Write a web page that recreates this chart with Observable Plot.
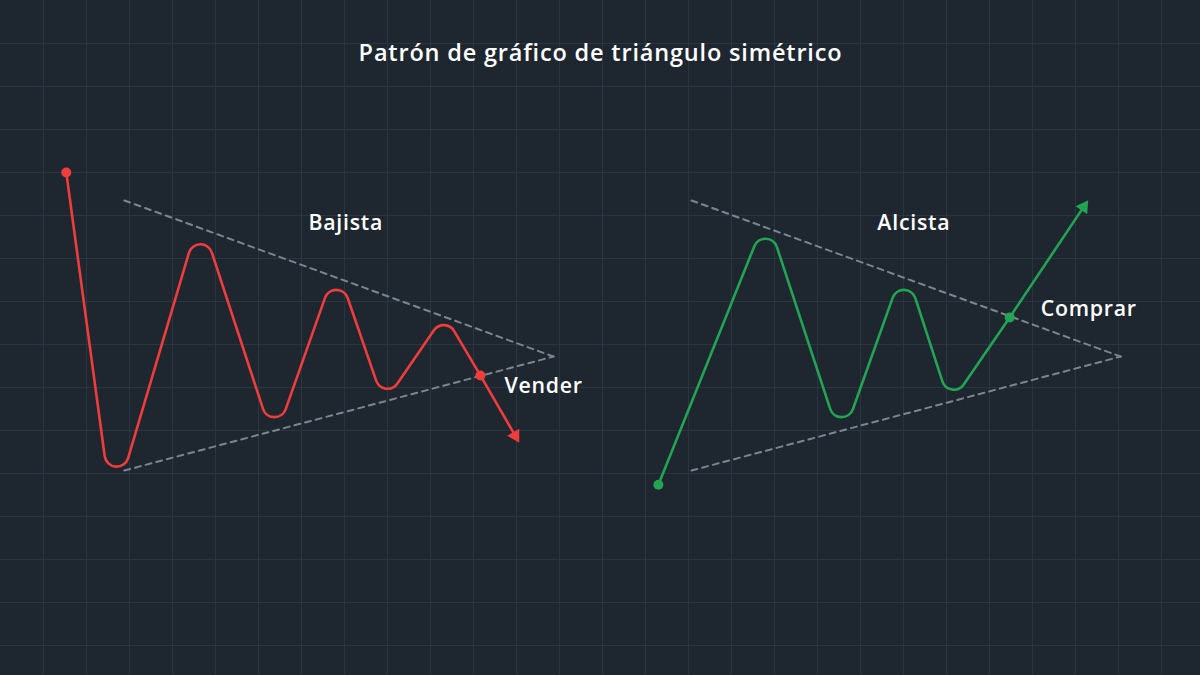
<!DOCTYPE html>
<html>
<head>
<meta charset="utf-8">
<script src="https://cdn.jsdelivr.net/npm/d3@7"></script>
<script src="https://cdn.jsdelivr.net/npm/@observablehq/plot@0.6"></script>
<style>
  html, body { margin: 0; padding: 0; background: #1e2630; }
  #chart { width: 1200px; height: 675px; overflow: hidden; }
  #chart svg text { letter-spacing: 0.035em; }
</style>
</head>
<body>
<div id="chart"></div>
<script>
// ---- Data (grid units: 1 unit = one background grid cell) ----
// Bearish (red) price path: start, troughs/peaks, sell signal, arrow end
const bearX = [1.53, 2.70, 4.65, 6.37, 7.81, 9.00, 10.31, 11.16, 11.97];
const bearY = [11.00, 4.16, 9.33, 5.31, 8.27, 5.97, 7.45, 6.28, 4.88];
const bearSignalIndex = 7;

// Bullish (green) price path
const bullX = [15.30, 17.79, 19.56, 21.01, 22.17, 23.47, 25.19];
const bullY = [3.74, 9.46, 5.31, 8.27, 5.95, 7.63, 10.20];
const bullSignalIndex = 5;

// Triangle trendlines: [x0, y0, x1, y1]
const trendUpperLeft  = [2.88, 10.35, 12.86, 6.72];
const trendLowerLeft  = [2.88, 4.07, 12.86, 6.72];
const trendUpperRight = [16.07, 10.35, 26.05, 6.72];
const trendLowerRight = [16.07, 4.07, 26.05, 6.72];

// Labels
const labelText   = ["Bajista", "Alcista", "Vender", "Comprar"];
const labelX      = [8.03, 21.24, 11.72, 24.19];
const labelY      = [9.81, 9.81, 6.02, 7.81];
const labelAnchor = ["middle", "middle", "start", "start"];

const titleText = "Patrón de gráfico de triángulo simétrico";

// Grid lines
const gridCols = d3.range(1, 28);
const gridRows = d3.range(0, 15);

// ---- Build tables ----
const W = 1200, H = 675, CELL = 43;
const RED = "#ef3d3b", GREEN = "#23a453", DASH = "#7b8591";

const bear = bearX.map((x, i) => ({x, y: bearY[i]}));
const bull = bullX.map((x, i) => ({x, y: bullY[i]}));
const trends = [trendUpperLeft, trendLowerLeft, trendUpperRight, trendLowerRight]
  .flatMap((t, k) => [{k, x: t[0], y: t[1]}, {k, x: t[2], y: t[3]}]);
const labels = labelText.map((t, i) => ({t, x: labelX[i], y: labelY[i], a: labelAnchor[i]}));

function heads(series) {
  const a = series[series.length - 2], b = series[series.length - 1];
  return [{x: b.x, y: b.y, rotate: Math.atan2(b.x - a.x, b.y - a.y) * 180 / Math.PI}];
}
function dots(series, si) { return [series[0], series[si]]; }

// Curve: straight segments with rounded turns at peaks and troughs
const R = 12;
function roundedTurns(context) {
  let pts;
  return {
    areaStart() {}, areaEnd() {},
    lineStart() { pts = []; },
    point(x, y) { pts.push([+x, +y]); },
    lineEnd() {
      const n = pts.length;
      if (n < 2) return;
      const nodes = pts.map((p, i) => {
        if (i === 0 || i === n - 1) return {c: p, s: 0};
        const a = pts[i - 1][1], b = pts[i + 1][1];
        if (p[1] > a && p[1] > b) return {c: [p[0], p[1] - R], s: R, ccw: true};
        if (p[1] < a && p[1] < b) return {c: [p[0], p[1] + R], s: -R, ccw: false};
        return {c: p, s: 0};
      });
      const segs = [];
      for (let i = 0; i < n - 1; i++) {
        const A = nodes[i], B = nodes[i + 1];
        const dx = B.c[0] - A.c[0], dy = B.c[1] - A.c[1], d = Math.hypot(dx, dy);
        const ux = dx / d, uy = dy / d;
        const k = (A.s - B.s) / d, h = Math.sqrt(Math.max(0, 1 - k * k));
        const px = -uy, py = ux;
        let nx = k * ux + h * px, ny = k * uy + h * py;
        const mx = k * ux - h * px, my = k * uy - h * py;
        if (my > ny) { nx = mx; ny = my; }
        segs.push([[A.c[0] + A.s * nx, A.c[1] + A.s * ny], [B.c[0] + B.s * nx, B.c[1] + B.s * ny]]);
      }
      context.moveTo(segs[0][0][0], segs[0][0][1]);
      for (let i = 0; i < segs.length; i++) {
        context.lineTo(segs[i][1][0], segs[i][1][1]);
        const node = nodes[i + 1];
        if (i < segs.length - 1 && node.s !== 0) {
          const a0 = Math.atan2(segs[i][1][1] - node.c[1], segs[i][1][0] - node.c[0]);
          const a1 = Math.atan2(segs[i + 1][0][1] - node.c[1], segs[i + 1][0][0] - node.c[0]);
          context.arc(node.c[0], node.c[1], R, a0, a1, node.ccw);
        }
      }
    }
  };
}

const FONT = "'Open Sans', 'Noto Sans', sans-serif";
const textStyle = {fill: "#ffffff", fontSize: 21.3, fontWeight: 600, lineAnchor: "middle"};

const plot = Plot.plot({
  width: W,
  height: H,
  margin: 0,
  x: {domain: [0, W / CELL], axis: null},
  y: {domain: [15 - H / CELL, 15], axis: null},
  style: {background: "#1e2630", fontFamily: FONT},
  marks: [
    Plot.gridX(gridCols, {stroke: "#2a3542", strokeOpacity: 1, strokeWidth: 1}),
    Plot.gridY(gridRows, {stroke: "#2a3542", strokeOpacity: 1, strokeWidth: 1}),
    Plot.line(trends, {x: "x", y: "y", z: "k", stroke: DASH, strokeWidth: 2, strokeDasharray: "6,5"}),
    Plot.line(bear, {x: "x", y: "y", stroke: RED, strokeWidth: 2.6, curve: roundedTurns, strokeLinejoin: "round"}),
    Plot.line(bull, {x: "x", y: "y", stroke: GREEN, strokeWidth: 2.6, curve: roundedTurns, strokeLinejoin: "round"}),
    Plot.dot(dots(bear, bearSignalIndex), {x: "x", y: "y", r: 5, fill: RED}),
    Plot.dot(dots(bull, bullSignalIndex), {x: "x", y: "y", r: 5, fill: GREEN}),
    Plot.dot(heads(bear), {x: "x", y: "y", rotate: "rotate", symbol: "triangle", r: 5.2, fill: RED}),
    Plot.dot(heads(bull), {x: "x", y: "y", rotate: "rotate", symbol: "triangle", r: 5.2, fill: GREEN}),
    Plot.text(labels.filter(d => d.a === "middle"), {x: "x", y: "y", text: "t", textAnchor: "middle", ...textStyle}),
    Plot.text(labels.filter(d => d.a === "start"), {x: "x", y: "y", text: "t", textAnchor: "start", ...textStyle}),
    Plot.text([titleText], {text: d => d, frameAnchor: "top", dy: 53, lineAnchor: "middle", fill: "#ffffff", fontSize: 23.5, fontWeight: 600})
  ]
});
document.getElementById("chart").appendChild(plot);
</script>
</body>
</html>
